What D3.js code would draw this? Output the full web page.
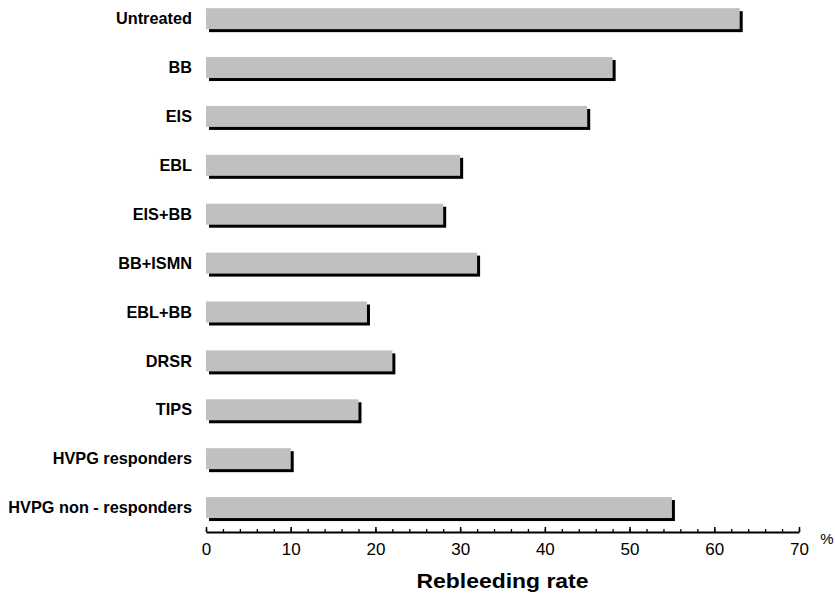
<!DOCTYPE html>
<html>
<head>
<meta charset="utf-8">
<script src="https://cdn.jsdelivr.net/npm/d3@7/dist/d3.min.js"></script>
<style>
  html, body { margin: 0; padding: 0; background: #fff; }
  svg { display: block; font-family: "Liberation Sans", Arial, Helvetica, sans-serif; }
</style>
</head>
<body>
<svg id="chart" width="835" height="593"></svg>
<script>
const categories = ["Untreated", "BB", "EIS", "EBL", "EIS+BB", "BB+ISMN", "EBL+BB", "DRSR", "TIPS", "HVPG responders", "HVPG non - responders"];
const rebleedingRate = [63, 48, 45, 30, 28, 32, 19, 22, 18, 10, 55];
const majorTicks = [0, 10, 20, 30, 40, 50, 60, 70];
const minorTicks = d3.range(0, 71, 2);
const xTitle = "Rebleeding rate";
const unitLabel = "%";

const svg = d3.select("#chart");
const x = d3.scaleLinear().domain([0, 70]).range([206, 799]);
const y = d3.scaleBand().domain(categories).range([-5.8, 532]).paddingInner(0.5706).paddingOuter(0.2853);

const data = categories.map((c, i) => ({ cat: c, v: rebleedingRate[i] }));

// shadows
svg.append("g").selectAll("rect").data(data).join("rect")
  .attr("x", x(0) + 3)
  .attr("y", d => y(d.cat) + 3)
  .attr("width", d => x(d.v) - x(0))
  .attr("height", y.bandwidth())
  .attr("fill", "#000");

// bars
svg.append("g").selectAll("rect").data(data).join("rect")
  .attr("x", x(0))
  .attr("y", d => y(d.cat))
  .attr("width", d => x(d.v) - x(0))
  .attr("height", y.bandwidth())
  .attr("fill", "#c0c0c0");

// category labels
svg.append("g").selectAll("text").data(data).join("text")
  .attr("x", 192)
  .attr("y", d => y(d.cat) + y.bandwidth() / 2)
  .attr("dy", "0.35em")
  .attr("text-anchor", "end")
  .attr("font-weight", "bold")
  .attr("font-size", 16.3)
  .attr("fill", "#000")
  .text(d => d.cat);

const axisY = 532;
// minor ticks
const gMinor = svg.append("g").attr("transform", `translate(0,${axisY})`)
  .call(d3.axisBottom(x).tickValues(minorTicks).tickSizeInner(-3).tickSizeOuter(0).tickFormat(""));
gMinor.select(".domain").attr("stroke", "#000").attr("stroke-width", 2);
gMinor.selectAll(".tick line").attr("stroke", "#000").attr("stroke-width", 1.3);

// major ticks
const gMajor = svg.append("g").attr("transform", `translate(0,${axisY})`)
  .call(d3.axisBottom(x).tickValues(majorTicks).tickSizeInner(-5).tickSizeOuter(0).tickPadding(11));
gMajor.select(".domain").remove();
gMajor.selectAll(".tick line").attr("stroke", "#000").attr("stroke-width", 1.5);
gMajor.selectAll(".tick text")
  .attr("font-size", 17)
  .attr("font-family", "\"Liberation Sans\", Arial, sans-serif")
  .attr("fill", "#000");

svg.append("text")
  .attr("x", 827).attr("y", 544)
  .attr("text-anchor", "middle")
  .attr("font-size", 15)
  .text(unitLabel);

svg.append("text")
  .attr("x", (x(0) + x(70)) / 2)
  .attr("y", 588)
  .attr("text-anchor", "middle")
  .attr("font-weight", "bold")
  .attr("font-size", 21)
  .attr("textLength", 172)
  .attr("lengthAdjust", "spacingAndGlyphs")
  .text(xTitle);
</script>
</body>
</html>
